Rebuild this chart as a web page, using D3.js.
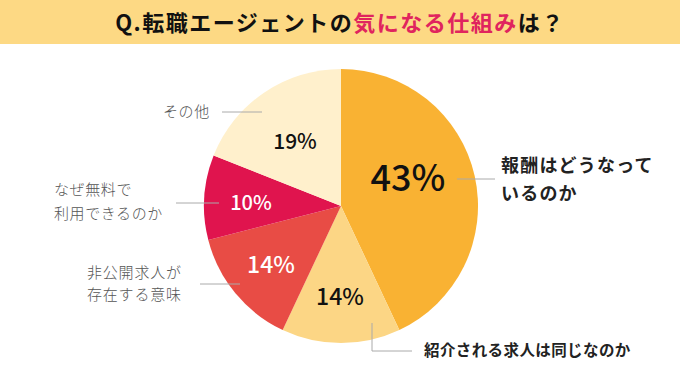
<!DOCTYPE html>
<html><head><meta charset="utf-8">
<script src="https://cdn.jsdelivr.net/npm/d3@7/dist/d3.min.js"></script>
<style>
body{margin:0;background:#fff;}
svg{display:block;font-family:"Noto Sans CJK JP","Noto Sans",sans-serif;}
</style></head><body>
<svg id="c" width="680" height="382"></svg>
<script>
const categories = ["報酬はどうなっているのか","紹介される求人は同じなのか","非公開求人が存在する意味","なぜ無料で利用できるのか","その他"];
const values = [43,14,14,10,19];
const labelLines = [["報酬はどうなって","いるのか"],["紹介される求人は同じなのか"],["非公開求人が","存在する意味"],["なぜ無料で","利用できるのか"],["その他"]];
const colors = ["#F9B233","#FCD685","#E84C45","#E0144E","#FFF0CC"];
const pctColors = ["#111","#111","#fff","#fff","#111"];

const svg = d3.select("#c");
// title bar
svg.append("rect").attr("x",0).attr("y",0).attr("width",680).attr("height",44).attr("fill","#FDD984");
const title = svg.append("text").attr("x",340).attr("y",31).attr("text-anchor","middle")
  .attr("font-size",22).attr("font-weight",700).attr("letter-spacing",1.5);
title.append("tspan").attr("fill","#111").text("Q.転職エージェントの");
title.append("tspan").attr("fill","#E0245E").text("気になる仕組み");
title.append("tspan").attr("fill","#111").text("は？");

const cx = 341, cy = 206, r = 137;
const pie = d3.pie().sort(null).value(d=>d)(values);
const arc = d3.arc().innerRadius(0).outerRadius(r);
const g = svg.append("g").attr("transform",`translate(${cx},${cy})`);
g.selectAll("path").data(pie).join("path").attr("d",arc).attr("fill",(d,i)=>colors[i]);

// percent labels
const pctPos = [[67,-28,36],[-1,91,23],[-70,59,23],[-90,-3,20],[-46,-65,21]];
g.selectAll("text.p").data(pie).join("text").attr("class","p")
  .attr("x",(d,i)=>pctPos[i][0]).attr("y",(d,i)=>pctPos[i][1])
  .attr("dy","0.36em").attr("text-anchor","middle")
  .attr("font-size",(d,i)=>pctPos[i][2]).attr("font-weight",500)
  .attr("fill",(d,i)=>pctColors[i]).text(d=>d.data+"%");

// leader lines
const lineColor = "#aaa";
const leaders = [
  [[457,179],[495,179]],
  [[372,323],[372,351],[412,351]],
  [[200,284],[240,284]],
  [[176,203],[219,203]],
  [[222,112],[262,112]]
];
leaders.forEach(pts=>{
  svg.append("path").attr("d",d3.line()(pts)).attr("fill","none").attr("stroke",lineColor).attr("stroke-width",1);
});

// category labels
const labelCfg = [
  {x:501,y:166,lh:28,size:18,weight:700,fill:"#222",ls:1.2},
  {x:424,y:351,lh:0,size:15.5,weight:700,fill:"#222",ls:0.4},
  {x:87,y:273,lh:22,size:15,weight:300,fill:"#555",ls:0.8},
  {x:54,y:190,lh:24,size:15,weight:300,fill:"#555",ls:0.6},
  {x:163,y:112,lh:0,size:15,weight:300,fill:"#555",ls:0.6}
];
labelLines.forEach((lines,i)=>{
  const c = labelCfg[i];
  const t = svg.append("text").attr("font-size",c.size).attr("font-weight",c.weight)
    .attr("fill",c.fill).attr("letter-spacing",c.ls);
  lines.forEach((s,k)=>{
    t.append("tspan").attr("x",c.x).attr("y",c.y+k*c.lh).attr("dy","0.35em").text(s);
  });
});
</script></body></html>
